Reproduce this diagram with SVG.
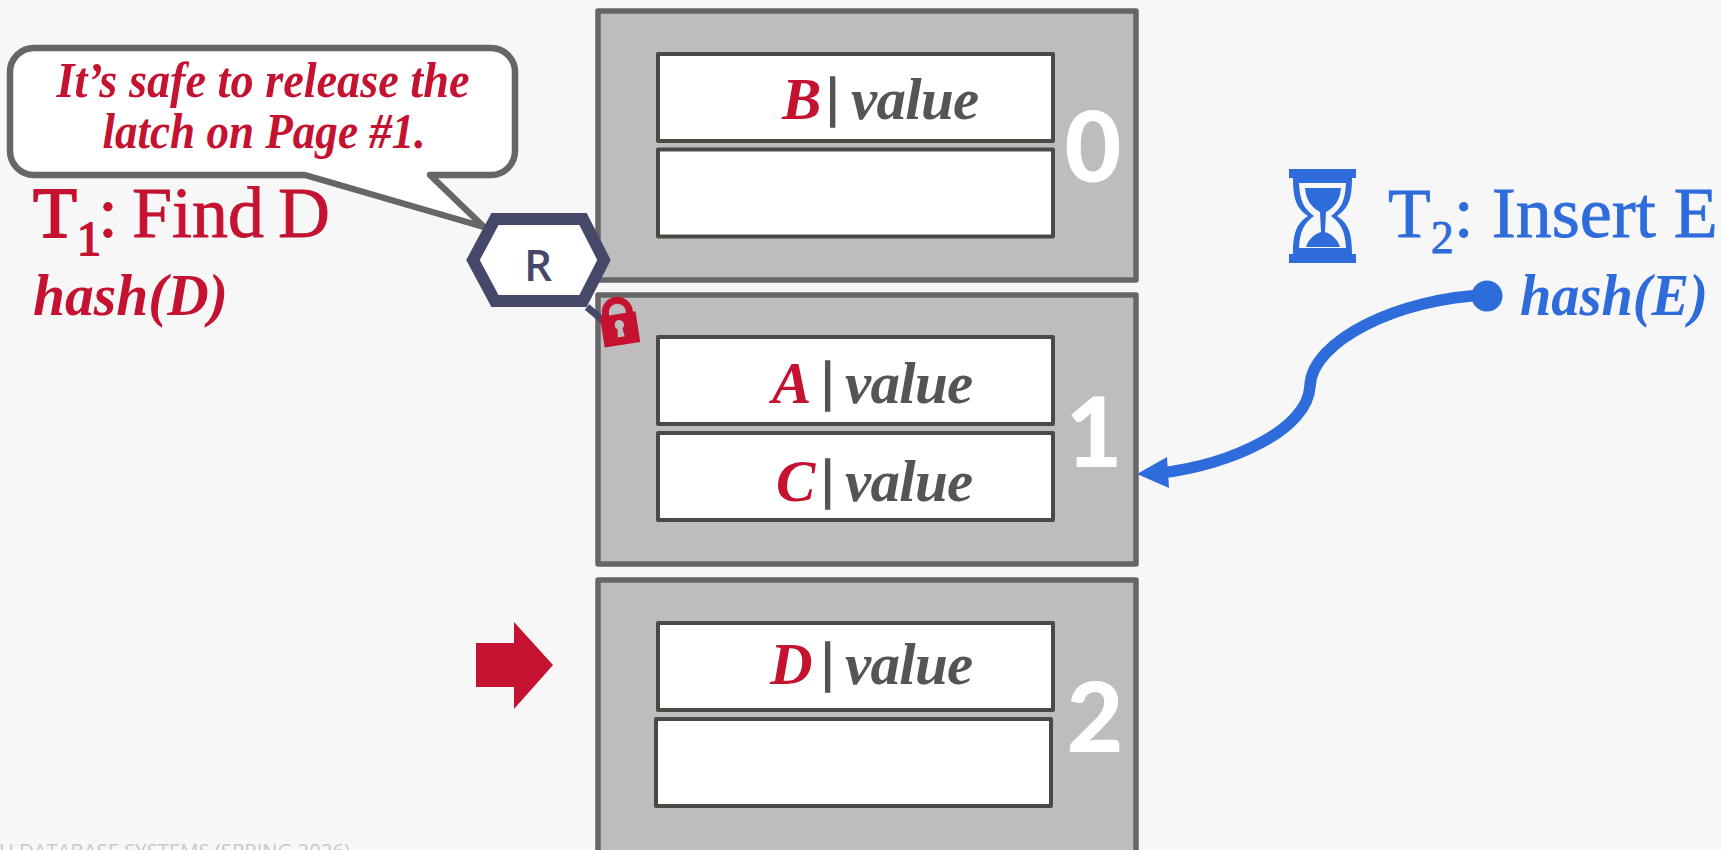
<svg xmlns="http://www.w3.org/2000/svg" width="1721" height="850" viewBox="0 0 1721 850">
<style>
.bg{fill:#f7f7f7}
.page{fill:#bdbdbd;stroke:#666;stroke-width:5.500;stroke-linejoin:round}
.row{fill:#fff;stroke:#4a4a45;stroke-width:4;stroke-linejoin:round}
.n{font-family:Lato,"Open Sans",sans-serif;font-weight:900;font-size:98px;fill:#fff;text-anchor:middle}
.kv{font-family:"Liberation Serif",serif;font-weight:700;font-style:italic;font-size:59px;letter-spacing:-.7px;fill:#555}
.bar{font-size:55px;stroke:#555;stroke-width:1.500px}
.red{fill:#c41230}
.blue{fill:#2e6cdb}
.ttl{font-family:"Liberation Serif",serif;font-size:72px;stroke-width:.8px}
.ttl.red{stroke:#c41230}
.ttl.blue{stroke:#2e6cdb}
.hash{font-family:"Liberation Serif",serif;font-weight:700;font-style:italic;font-size:60px}
.say{font-family:"Liberation Serif",serif;font-weight:700;font-style:italic;font-size:50px;fill:#c41230;text-anchor:middle}
</style>
<rect class="bg" width="1721" height="850"/>
<text x="-32" y="858" font-family="'Open Sans','Liberation Sans',sans-serif" font-size="20.300" fill="#c8c8c8">CMU DATABASE SYSTEMS (SPRING 2026)</text>
<g id="page0"><rect class="page" x="598" y="11" width="538" height="269"/>
<rect class="row" x="658" y="54" width="395" height="87"/><rect class="row" x="658" y="149.500" width="395" height="87"/>
<text class="kv" y="119"><tspan class="red" x="782">B</tspan><tspan class="bar" x="827" y="115">|</tspan><tspan x="851" y="119">value</tspan></text>
<text class="n" x="1093" y="182">0</text></g>
<g id="page1"><rect class="page" x="598" y="295" width="538" height="269"/>
<rect class="row" x="658" y="337" width="395" height="87"/><rect class="row" x="658" y="433" width="395" height="87"/>
<text class="kv" y="403"><tspan class="red" x="772">A</tspan><tspan class="bar" x="822" y="399">|</tspan><tspan x="845" y="403">value</tspan></text>
<text class="kv" y="501"><tspan class="red" x="776">C</tspan><tspan class="bar" x="822" y="497">|</tspan><tspan x="845" y="501">value</tspan></text>
<text class="n" x="1094" y="467">1</text></g>
<g id="page2"><rect class="page" x="598" y="580" width="538" height="280"/>
<rect class="row" x="658" y="623" width="395" height="87"/><rect class="row" x="656" y="719" width="395" height="87"/>
<text class="kv" y="684"><tspan class="red" x="770">D</tspan><tspan class="bar" x="822" y="680">|</tspan><tspan x="845" y="684">value</tspan></text>
<text class="n" x="1095" y="752">2</text></g>
<g id="connectors">
<path d="M1487,295C1400,298 1312,340 1310,386C1308,430 1230,465 1160,473" fill="none" stroke="#2e6cdb" stroke-width="11.500"/>
<circle class="blue" cx="1487" cy="296" r="15.500"/>
<path class="blue" d="M1137,474L1167,457L1169,488Z"/>
<path d="M587,307L606,323" stroke="#46486a" stroke-width="7" fill="none"/>
</g>
<g id="callout"><path d="M34,48H491A24,24 0 0 1 515,72V151A24,24 0 0 1 491,175H430L484,227L305,175H34A24,24 0 0 1 10,151V72A24,24 0 0 1 34,48Z" fill="#fff" stroke="#666" stroke-width="6.500" stroke-linejoin="round"/>
<text class="say" x="263" y="97" textLength="413" lengthAdjust="spacingAndGlyphs">It’s safe to release the</text>
<text class="say" x="264" y="148" textLength="323" lengthAdjust="spacingAndGlyphs">latch on Page #1.</text></g>
<g id="latch"><path d="M473,260L495,219H583L604,260L583,301H495Z" fill="#fff" stroke="#46486a" stroke-width="12"/>
<text x="538" y="281" font-family="'Open Sans','Liberation Sans',sans-serif" font-weight="600" font-size="44" fill="#46486a" text-anchor="middle">R</text></g>
<g id="lock" transform="rotate(-9 620 329)">
<path d="M608,316V312A12,12 0 0 1 632,312V316" fill="none" stroke="#c41230" stroke-width="7"/>
<path class="red" fill-rule="evenodd" d="M602,314H638V345H602ZM620,320a4.800,4.800 0 0 0-2.500,8.800L616.500,337H623.500L622.500,328.800A4.800,4.800 0 0 0 620,320Z"/></g>
<g id="t1"><text class="ttl red" x="33" y="237" word-spacing="-4"><tspan stroke-width="1.800">T</tspan><tspan font-size="48" stroke-width="1.800" dy="18">1</tspan><tspan dx="-3" dy="-18">: Find D</tspan></text>
<text class="hash red" x="33" y="315" textLength="195" lengthAdjust="spacingAndGlyphs">hash(D)</text></g>
<g id="t2"><text class="ttl blue" x="1388" y="237"><tspan font-size="70">T</tspan><tspan font-size="46" dy="16">2</tspan><tspan dy="-16">: Insert E</tspan></text>
<text class="hash blue" x="1520" y="315" textLength="188" lengthAdjust="spacingAndGlyphs">hash(E)</text></g>
<g id="hourglass"><path class="blue" fill-rule="evenodd" d="M1289,169H1356V178H1352C1352,198 1349,208 1337,216C1349,224 1352,234 1352,254H1356V263H1289V254H1293C1293,234 1296,224 1308,216C1296,208 1293,198 1293,178H1289ZM1299,183C1300,200 1303,208 1314,216C1303,224 1300,232 1299,248H1346C1345,232 1342,224 1331,216C1342,208 1345,200 1346,183Z"/>
<path class="blue" d="M1305,188H1341C1340,200 1335,207 1326,212L1325,232C1332,234 1338,240 1340,247H1306C1308,240 1314,234 1321,232L1320,212C1311,207 1306,200 1305,188Z"/></g>
<g id="arrow"><path class="red" d="M476,643H514V622L553,665L514,709V687H476Z"/></g>
</svg>
